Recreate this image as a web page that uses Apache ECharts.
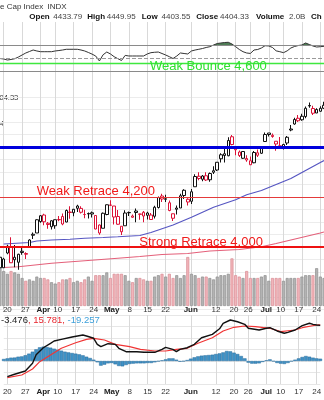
<!DOCTYPE html>
<html><head><meta charset="utf-8">
<script src="https://cdn.jsdelivr.net/npm/echarts@6/dist/echarts.min.js"></script>
<style>html,body{margin:0;padding:0;background:#fff}#c{width:324px;height:400px}</style>
</head><body><div id="c"></div><script>
// ---------- DATA ----------
const dates = ['03-17','03-20','03-21','03-22','03-23','03-24','03-27','03-28','03-29','03-30','03-31',
'04-03','04-04','04-05','04-06','04-10','04-11','04-12','04-13','04-14','04-17','04-18','04-19','04-20','04-21','04-24','04-25','04-26','04-27','04-28',
'05-01','05-02','05-03','05-04','05-05','05-08','05-09','05-10','05-11','05-12','05-15','05-16','05-17','05-18','05-19','05-22','05-23','05-24','05-25','05-26','05-30','05-31',
'06-01','06-02','06-05','06-06','06-07','06-08','06-09','06-12','06-13','06-14','06-15','06-16','06-20','06-21','06-22','06-23','06-26','06-27','06-28','06-29','06-30',
'07-03','07-05','07-06','07-07','07-10','07-11','07-12','07-13','07-14','07-17','07-18','07-19','07-20','07-21','07-24','07-25'];
const opens = [3959,3917,3976,4002,3959,3939,3983,3974,4000,4047,4056,
4102,4128,4095,4081,4085,4110,4122,4100,4140,4137,4164,4139,4130,4132,4132,4126,4088,4075,4130,
4167,4164,4122,4083,4085,4137,4124,4144,4132,4139,4127,4128,4123,4158,4204,4191,4177,4133,4156,4156,4227,4191,
4183,4241,4283,4271,4285,4269,4305,4308,4353,4366,4365,4441,4396,4380,4355,4354,4345,4337,4367,4375,4422,
4450,4442,4423,4405,4394,4416,4468,4492,4515,4509,4522,4564,4554,4550,4543,4555];
const highs = [3959,3957,4009,4039,4008,3973,3997,3979,4031,4058,4111,
4128,4133,4100,4107,4110,4124,4134,4150,4163,4152,4169,4163,4149,4138,4142,4126,4090,4138,4170,
4187,4164,4148,4083,4147,4142,4130,4154,4133,4144,4141,4136,4165,4202,4213,4209,4186,4133,4166,4213,4231,4195,
4232,4291,4299,4288,4299,4298,4323,4340,4375,4392,4439,4448,4400,4386,4382,4367,4362,4384,4390,4398,4458,
4456,4454,4423,4440,4413,4444,4488,4517,4528,4533,4562,4578,4565,4555,4563,4581];
const lows = [3901,3917,3971,3936,3919,3909,3969,3952,3999,4032,4056,
4097,4087,4073,4070,4073,4103,4087,4099,4113,4123,4140,4134,4115,4114,4118,4071,4049,4075,4127,
4164,4090,4089,4048,4085,4124,4117,4099,4109,4099,4110,4110,4114,4154,4180,4180,4143,4104,4130,4156,4192,4166,
4172,4241,4267,4263,4264,4261,4292,4304,4338,4338,4363,4407,4367,4360,4352,4341,4328,4335,4360,4372,4422,
4442,4437,4385,4397,4390,4408,4463,4489,4500,4505,4515,4557,4528,4536,4541,4552];
const closes = [3917,3952,4003,3937,3949,3971,3978,3971,4028,4051,4109,
4125,4101,4090,4105,4109.1,4108.9,4092,4146,4138,4151,4154.9,4154.5,4130,4134,4137,4072,4056,4135,4169,
4168,4120,4091,4061,4136,4138,4119,4138,4131,4124,4136,4110,4159,4198,4192,4193,4146,4115,4151,4205,4206,4180,
4221,4282,4274,4284,4268,4294,4299,4339,4369,4373,4426,4410,4389,4366,4382,4348,4329,4378,4377,4396,4450,
4456,4447,4412,4399,4410,4439,4472,4510,4505,4523,4555,4566,4535,4536,4555,4567];
const volumes = [3.5,
2.5,2.3,2.5,2.4,2.3,2.0,1.8,1.9,1.8,2.1,
2.0,2.0,1.9,1.7,1.6,1.7,1.9,1.9,2.0,1.7,
1.8,1.7,1.9,2.1,1.8,2.2,2.2,2.2,2.4,2.0,
2.3,2.3,2.3,2.2,1.8,1.7,2.0,2.0,1.9,1.8,
1.8,2.1,2.2,2.3,2.1,2.3,2.0,2.2,2.0,2.2,
3.5,2.3,2.2,2.0,2.1,2.1,2.0,1.9,2.1,2.2,
2.2,2.3,3.4,2.2,2.1,2.0,2.5,2.0,2.0,2.0,
2.1,2.2,1.8,2.0,2.0,2.0,1.8,2.0,2.0,2.0,
2.0,2.1,2.2,2.2,2.2,2.7,2.1,2.0];
const rsi = [49.2,48.5,46.9,47.7,48.9,51.5,54.6,57.7,60,62.3,60.8,
59.7,59.7,59.7,59.7,60.8,61.5,62.3,63.4,63.4,63.4,
63.4,62.3,60.8,58.5,56,53,45.4,55,59.2,56.2,
52,49,46.2,54,53.1,53.1,53.1,53.1,53.1,56.2,
58.2,58.8,59.2,56.9,54.6,52,49.2,53,57.7,56.9,
56.2,60.8,62.3,63.4,64.6,66.2,67.4,70,72.3,73.1,
73.8,74.2,71.5,67.4,63.1,59.7,57.7,57,62.3,63.1,
65.4,68.9,68.5,66.2,61,59.7,58.2,61,65.4,67.7,
69.2,70,73.1,70.8,68.5,66.9,67.4,68];
const ma50Pts = [['03-20',4012],['03-29',4018],['03-31',4024],['04-06',4028],['04-14',4031],['04-20',4035],
['04-27',4038],['05-03',4041],['05-11',4046],['05-16',4058],['05-19',4073],['05-24',4088],['06-01',4119],
['06-09',4159],['06-20',4189],['06-23',4209],['06-29',4226],['07-07',4256],['07-12',4274],['07-14',4290],
['07-24',4338],['07-25',4346]];
const ma200Pts = [['03-20',3918],['03-24',3921],['04-06',3935],['04-20',3945],['05-03',3955],['05-11',3962],
['05-19',3970],['05-31',3974],['06-08',3984],['06-21',3990],['06-29',4001],['07-06',4014],['07-12',4028],
['07-18',4042],['07-24',4056],['07-25',4060]];
const macdPts = [['03-20',-27.3],['03-22',-23.1],['03-27',-17.4],['03-29',-4],['03-30',11],['04-03',23],
['04-05',30.8],['04-06',34.8],['04-11',37.7],['04-14',41.7],['04-19',45.2],['04-20',43.5],['04-24',39.5],
['04-25',29],['04-26',25],['04-28',30.1],['05-02',29],['05-03',22.1],['05-05',16.2],['05-10',16.2],
['05-12',15.1],['05-17',15.1],['05-19',20.3],['05-22',23.8],['05-24',20.3],['05-25',16.2],['05-26',20.3],
['05-31',23.1],['06-02',29],['06-06',40.5],['06-09',46.4],['06-13',56],['06-14',65.6],['06-16',71.3],
['06-21',68.3],['06-23',63.8],['06-26',56.9],['06-29',53.9],['07-03',56.9],['07-05',57.9],['07-07',52.2],
['07-11',48.2],['07-12',49.9],['07-14',53.9],['07-18',61.4],['07-20',65.6],['07-21',63.8],['07-24',62.6],['07-25',62]];
const signalPts = [['03-20',-29],['03-24',-24.3],['03-29',-13.9],['03-31',-1.2],['04-05',10.4],['04-11',22.1],
['04-17',31.8],['04-20',37.7],['04-24',39.5],['04-27',36.5],['05-02',29],['05-08',24.9],['05-11',20.3],
['05-17',17.4],['05-22',17.4],['05-25',20.3],['05-31',22.1],['06-05',30.8],['06-09',40.5],['06-14',52.2],
['06-20',58.6],['06-23',60.9],['06-28',59.7],['07-05',56.9],['07-10',51],['07-14',53.9],['07-18',57.9],
['07-24',62.6],['07-25',63]];
const histVals = [3.5,
4.6,5.8,6,7.5,8,10,12.8,16.2,20.3,23.8,
25,24.3,23.2,21.4,19.7,18,16.2,15,13.9,12.8,
11.6,9.9,7.5,5.2,2.3,-2.3,-8.1,-6.4,-4.1,-3.5,
-5.8,-8.7,-9.3,-7,-5.2,-4.6,-4.1,-4.1,-4.1,-3.5,
-3.5,-2.3,-0.6,1.2,2.9,4.6,4.6,2.3,-1.2,-0.6,
1.7,4.1,6.4,8.1,9.3,9.9,10.4,11,12.2,13.3,
15,17.4,16.8,14.5,12.2,8.7,4.6,-2.9,-4.6,-4.6,
-4.1,-1.7,1.2,2.9,-0.6,-3.5,-4.6,-5.2,-3.5,-0.6,
2.3,4.6,7,8.7,7.5,5.8,4.6,4];
const axisLabels = [['03-20','20'],['03-27','27'],['04-03','Apr'],['04-10','10'],['04-17','17'],['04-24','24'],
['05-01','May'],['05-08','8'],['05-15','15'],['05-22','22'],['06-01','Jun'],['06-12','12'],['06-20','20'],
['06-26','26'],['07-03','Jul'],['07-10','10'],['07-17','17'],['07-24','24']];
const priceLevels = [4400, 4200, 4000];
const rsiLevels = [70, 50, 30];
const headerItems = [['Open',true],['4433.79',false],['High',true],['4449.95',false],['Low',true],['4403.55',false],
['Close',true],['4404.33',false],['Volume',true],['2.0B',false],['Ch',true]];
const macdLegend = ['-3.476', '15.781', '-19.257'];

// ---------- STYLE / LAYOUT ----------
const FONT = 'Liberation Sans, Arial, sans-serif';
const RED = '#dc1237', BLK = '#111';
const labelMap = new Map(axisLabels);
const isMonth = s => /^[A-Z]/.test(s);
const toIdx = pts => pts.map(([d, v]) => [dates.indexOf(d), v]);
const GL = -4.31, GW = 331.76;

const candleData = dates.map((d, i) => {
  const red = i > 0 && closes[i] < closes[i - 1];
  const c = red ? RED : BLK;
  return {value: [opens[i], closes[i], lows[i], highs[i]],
    itemStyle: {color: '#fff', color0: c, borderColor: c, borderColor0: c}};
});
const volData = volumes.map((v, i) => {
  const red = i > 0 && closes[i] < closes[i - 1];
  return {value: v, itemStyle: red ? {color: '#f1b5ba', borderColor: '#d98b93', borderWidth: 0.7}
                                   : {color: '#b3b3b3', borderColor: '#8e8e8e', borderWidth: 0.7}};
});

const vSplit = {show: true, interval: (i, v) => labelMap.has(v), lineStyle: {color: '#d9d9d9', width: 1}};
function xa(gi, extra) {
  return Object.assign({type: 'category', gridIndex: gi, data: dates, boundaryGap: false,
    axisLine: {show: false}, axisTick: {show: false}, axisLabel: {show: false}, splitLine: {show: false}}, extra);
}
function labelCfg(margin) {
  return {show: true, margin, interval: (i, v) => labelMap.has(v),
    formatter: v => { const s = labelMap.get(v) || ''; return isMonth(s) ? '{m|' + s + '}' : s; },
    color: '#333', fontSize: 8, fontFamily: FONT,
    rich: {m: {fontWeight: 'bold', fontSize: 8, color: '#222', fontFamily: FONT}}};
}
function hidY(gi, extra) {
  return Object.assign({type: 'value', gridIndex: gi, axisLine: {show: false}, axisTick: {show: false},
    axisLabel: {show: false}, splitLine: {show: false}}, extra);
}

const headerX = [29.3, 53.3, 87.3, 106.7, 141.7, 161.5, 196.3, 220, 256, 289, 311];
const graphics = [
  {type: 'text', x: 0, y: 6.5, style: {text: 'e Cap Index  INDX', fill: '#333', font: '8px ' + FONT, verticalAlign: 'middle'}},
  ...headerItems.map(([t, b], i) => ({type: 'text', x: headerX[i], y: 16.5,
    style: {text: t, fill: b ? '#111' : '#444', font: (b ? 'bold ' : '') + '8px ' + FONT, verticalAlign: 'middle'}})),
  {type: 'text', x: -0.5, y: 98, style: {text: '04.33', fill: '#333', font: '7.5px ' + FONT, verticalAlign: 'middle'}},
  {type: 'text', x: 0, y: 124, style: {text: '4', fill: '#333', font: '7.5px ' + FONT, verticalAlign: 'middle'}},
  {type: 'line', shape: {x1: 0, y1: 63.5, x2: 324, y2: 63.5}, style: {stroke: '#3ee83e', lineWidth: 1.5}, z: 10},
  {type: 'text', x: 150, y: 66, z: 11, style: {text: 'Weak Bounce 4,600', fill: '#2fe02f', font: '13px ' + FONT, verticalAlign: 'middle'}},
  {type: 'text', x: 36.7, y: 191, z: 11, style: {text: 'Weak Retrace 4,200', fill: '#f01a1a', font: '13px ' + FONT, verticalAlign: 'middle'}},
  {type: 'text', x: 139.3, y: 242, z: 11, style: {text: 'Strong Retrace 4,000', fill: '#f01a1a', font: '13px ' + FONT, verticalAlign: 'middle'}},
  {type: 'text', x: 1, y: 320.5, z: 11, style: {
    text: '{k|' + macdLegend[0] + '}{r|, ' + macdLegend[1] + ',} {b|' + macdLegend[2] + '}',
    font: '9.5px ' + FONT, verticalAlign: 'middle',
    rich: {k: {fill: '#222', font: '9.5px ' + FONT}, r: {fill: '#e8262e', font: '9.5px ' + FONT}, b: {fill: '#3ea0da', font: '9.5px ' + FONT}}}}
];

const option = {
  animation: false,
  backgroundColor: '#fff',
  textStyle: {fontFamily: FONT},
  grid: [
    {left: GL, width: GW, top: 22, height: 75},
    {left: GL, width: GW, top: 97, height: 212.5},
    {left: GL, width: GW, top: 166, height: 140},
    {left: GL, width: GW, top: 315, height: 69},
    {left: GL, width: GW, top: 22, height: 23}
  ],
  xAxis: [
    xa(0, {splitLine: vSplit}),
    xa(1, {splitLine: vSplit}),
    xa(2, {}),
    xa(3, {position: 'top', splitLine: vSplit, axisLabel: labelCfg(1)}),
    xa(3, {position: 'bottom', axisLabel: labelCfg(4)}),
    xa(4, {})
  ],
  yAxis: [
    hidY(0, {min: -10, max: 105.385}),
    hidY(1, {min: 3750, max: 4600, interval: 50, splitLine: {show: true, lineStyle: {color: '#ececec', width: 1}}}),
    hidY(2, {min: 0, max: 10}),
    hidY(3, {min: -40, max: 80, interval: 20, splitLine: {show: true, lineStyle: {color: '#e6e6e6', width: 1}}}),
    hidY(4, {min: 70, max: 105.385})
  ],
  graphic: graphics,
  series: [
    {type: 'line', xAxisIndex: 5, yAxisIndex: 4, data: rsi, showSymbol: false, silent: true, clip: true,
      lineStyle: {width: 0, opacity: 0}, areaStyle: {color: '#4e7d55', opacity: 1, origin: 'start'}, z: 1},
    {type: 'line', xAxisIndex: 0, yAxisIndex: 0, data: rsi, showSymbol: false, silent: true,
      lineStyle: {color: '#333', width: 1}, itemStyle: {color: '#333'}, z: 3,
      markLine: {silent: true, symbol: 'none', label: {show: false},
        data: rsiLevels.map(v => ({yAxis: v, lineStyle: v === 50 ? {color: '#9a9a9a', width: 1, type: 'dashed'} : {color: '#8a8a8a', width: 1, type: 'solid'}}))}},
    {type: 'bar', xAxisIndex: 2, yAxisIndex: 2, data: volData, barWidth: 3, silent: true, z: 1},
    {type: 'line', xAxisIndex: 1, yAxisIndex: 1, data: toIdx(ma200Pts), showSymbol: false, silent: true,
      lineStyle: {color: '#e4607a', width: 1.2}, z: 2},
    {type: 'line', xAxisIndex: 1, yAxisIndex: 1, data: toIdx(ma50Pts), showSymbol: false, silent: true,
      lineStyle: {color: '#5656c2', width: 1.2}, z: 2},
    {type: 'candlestick', xAxisIndex: 1, yAxisIndex: 1, data: candleData, barWidth: 3, silent: true, z: 3,
      itemStyle: {borderWidth: 1},
      markLine: {silent: true, symbol: 'none', label: {show: false},
        data: [
          {yAxis: priceLevels[0], lineStyle: {color: '#0000dd', width: 3, type: 'solid'}},
          {yAxis: priceLevels[1], lineStyle: {color: '#e43a3a', width: 1, type: 'solid'}},
          {yAxis: priceLevels[2], lineStyle: {color: '#ee1111', width: 2, type: 'solid'}}
        ]}},
    {type: 'bar', xAxisIndex: 4, yAxisIndex: 3, data: histVals, barWidth: '100%', silent: true,
      itemStyle: {color: '#3f92c6', borderColor: '#2a6d9c', borderWidth: 0.5}, z: 1},
    {type: 'line', xAxisIndex: 4, yAxisIndex: 3, data: toIdx(signalPts), showSymbol: false, silent: true,
      lineStyle: {color: '#f03535', width: 1.2}, z: 2},
    {type: 'line', xAxisIndex: 4, yAxisIndex: 3, data: toIdx(macdPts), showSymbol: false, silent: true,
      lineStyle: {color: '#111', width: 1.4}, z: 3}
  ]
};
const chart = echarts.init(document.getElementById('c'), null, {renderer: 'canvas', width: 324, height: 400});
chart.setOption(option);
</script></body></html>
